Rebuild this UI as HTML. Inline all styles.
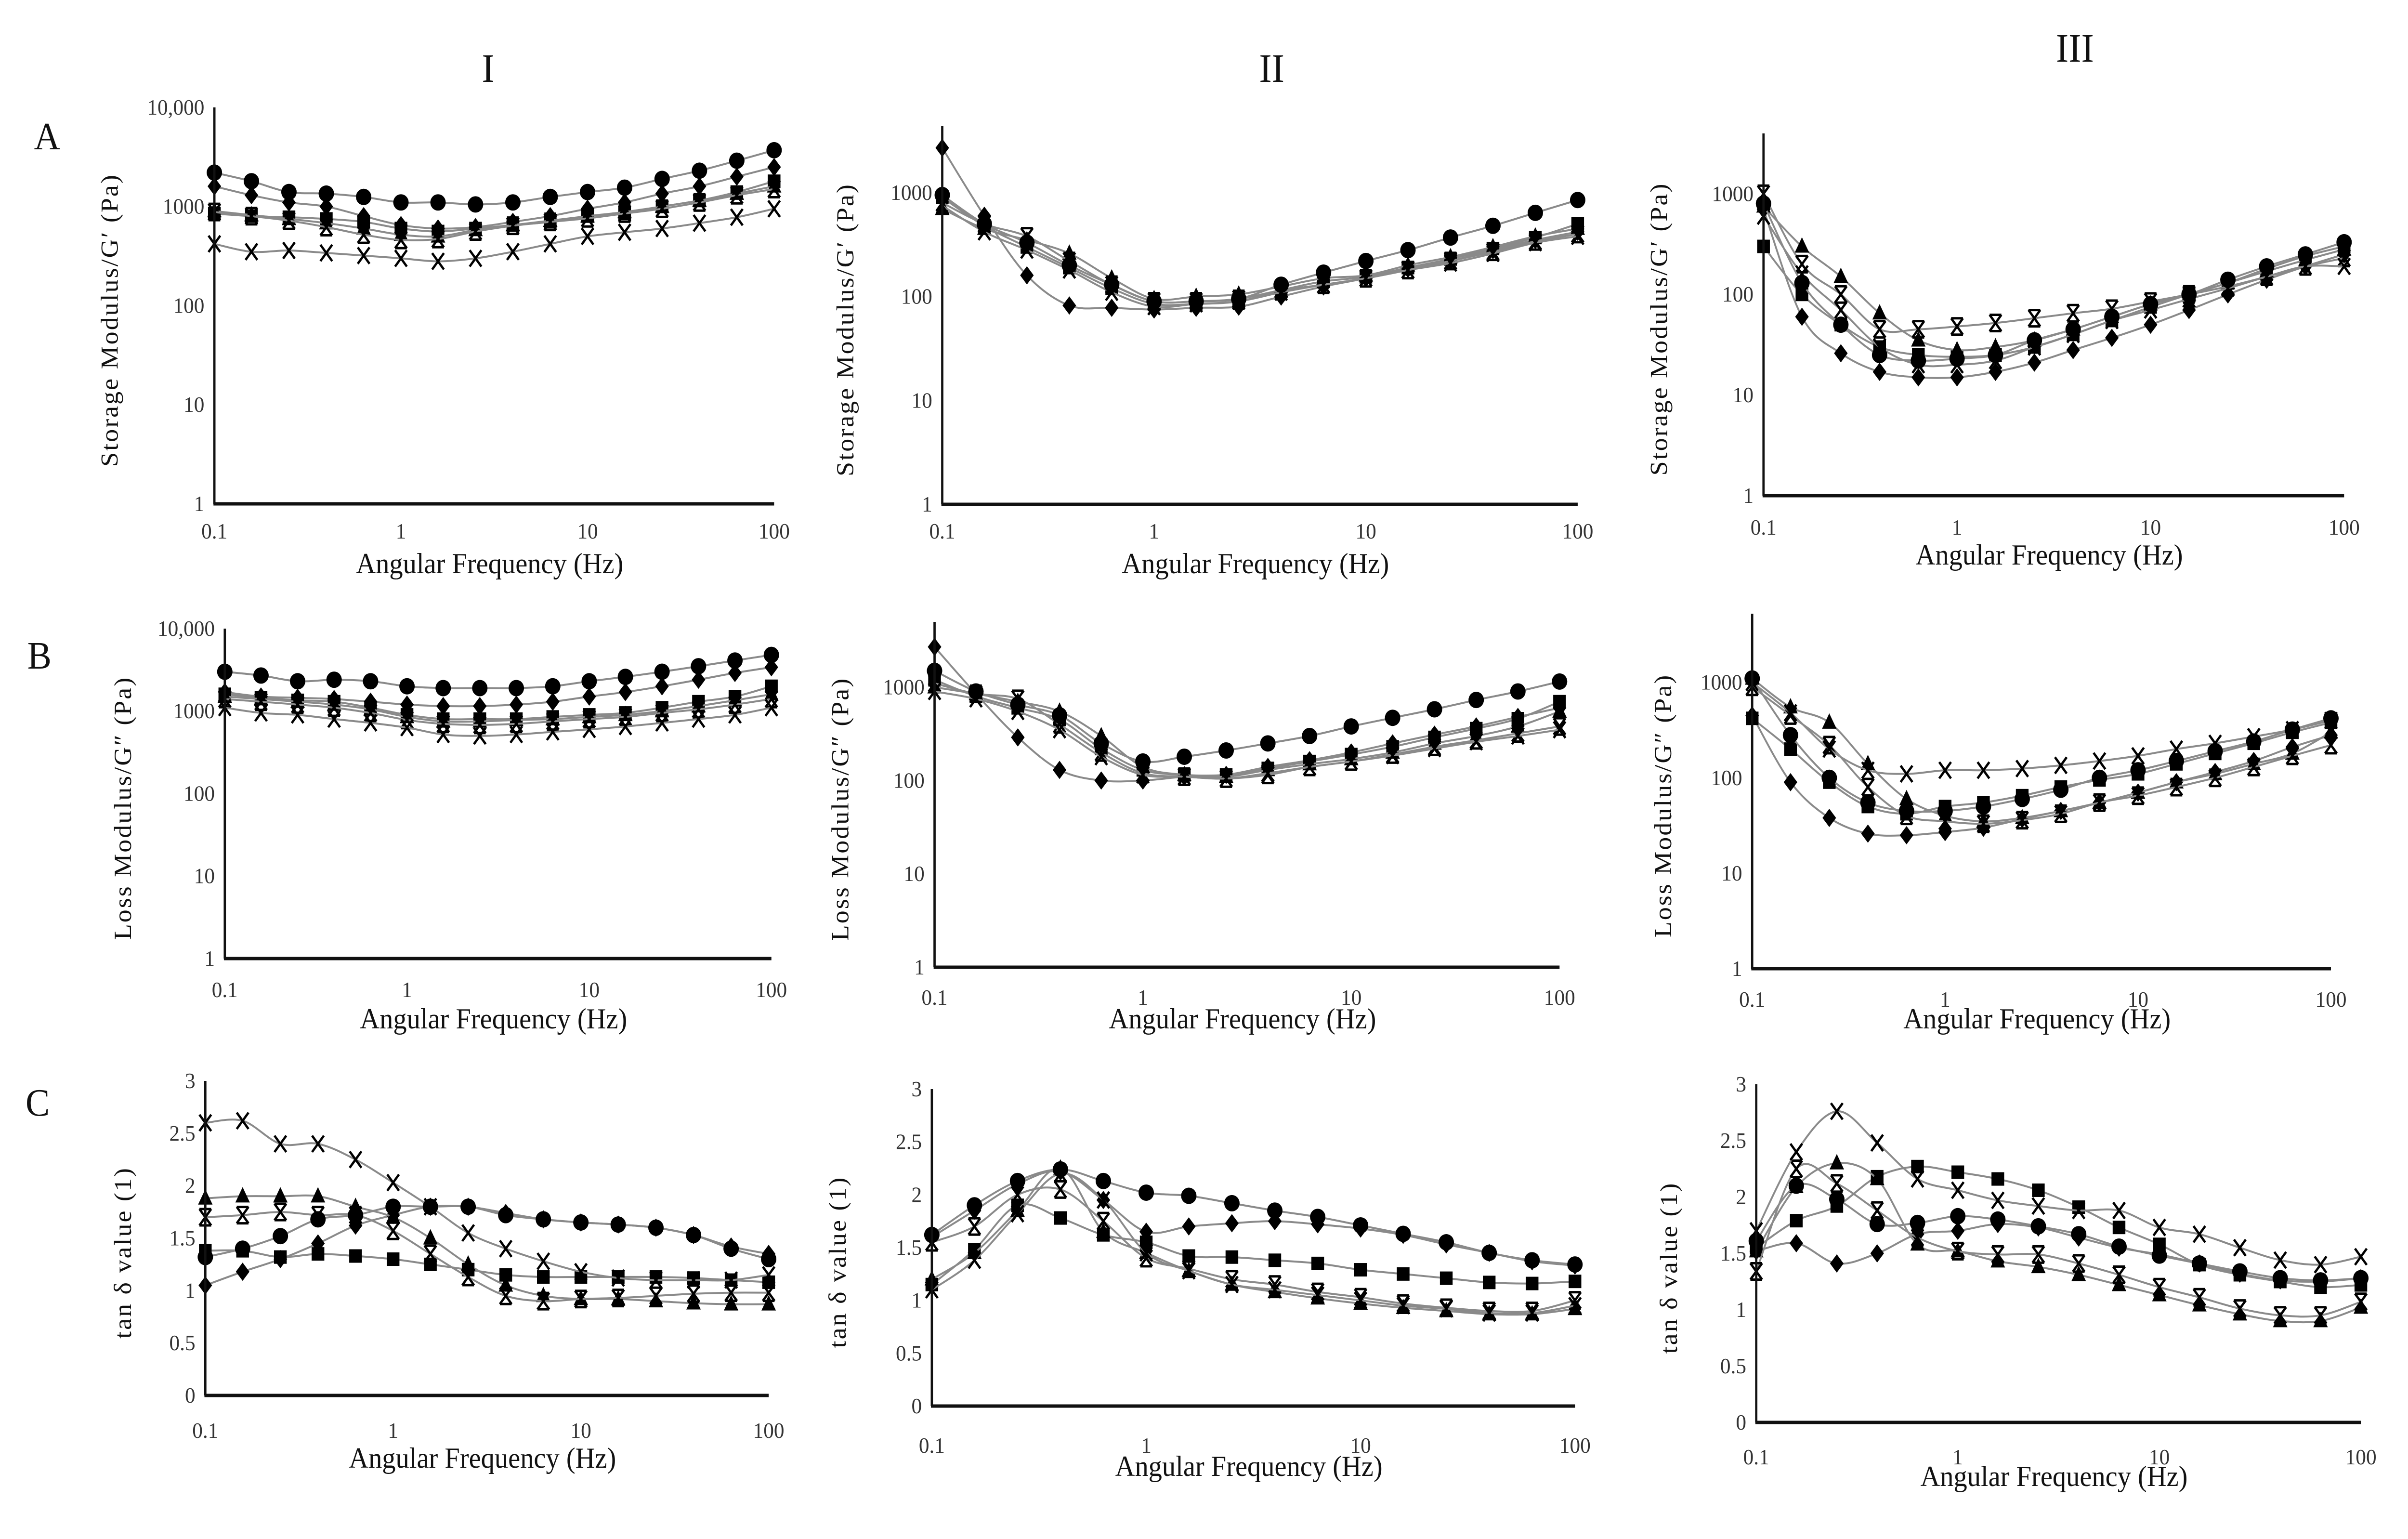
<!DOCTYPE html>
<html><head><meta charset="utf-8">
<style>
html,body{margin:0;padding:0;background:#fff;overflow:hidden;width:100%;height:100%;}
svg{display:block;width:100vw;height:100vh;}
text{font-family:"Liberation Serif",serif;}
</style></head>
<body>
<svg id="fig" viewBox="0 0 5313 3195" preserveAspectRatio="none" xmlns="http://www.w3.org/2000/svg">
<rect x="0" y="0" width="5313" height="3195" fill="#fff"/>
<text x="1077" y="170" font-size="84" text-anchor="middle" fill="#111">I</text>
<text x="2806" y="170" font-size="84" text-anchor="middle" fill="#111">II</text>
<text x="4578" y="128" font-size="84" text-anchor="middle" fill="#111">III</text>
<text x="104" y="310" font-size="80" text-anchor="middle" fill="#111">A</text>
<text x="87" y="1388" font-size="80" text-anchor="middle" fill="#111">B</text>
<text x="83" y="2316" font-size="80" text-anchor="middle" fill="#111">C</text>
</svg>
<script>
const freqs = [0.1,0.158,0.251,0.398,0.631,1,1.58,2.51,3.98,6.31,10,15.8,25.1,39.8,63.1,100];
const xTicks = [0.1,1,10,100];
const xTickLabels = ["0.1","1","10","100"];
const logTicks = [1,10,100,1000,10000];
const logTickLabels = ["1","10","100","1000","10,000"];
const tanTicks = [0,0.5,1,1.5,2,2.5,3];
const tanTickLabels = ["0","0.5","1","1.5","2","2.5","3"];

// A-I storage modulus
const aI_circle = [2200,1800,1400,1350,1250,1100,1100,1050,1100,1250,1400,1550,1900,2300,2900,3700];
const aI_diamond = [1600,1300,1100,1000,800,650,600,620,700,800,950,1100,1350,1600,2000,2500];
const aI_square = [850,800,780,750,700,600,560,600,650,700,800,850,1000,1150,1400,1800];
const aI_triangle = [900,820,750,680,600,520,500,580,650,720,800,880,1000,1150,1350,1600];
const aI_star = [880,800,720,620,520,460,470,560,640,700,760,850,950,1100,1300,1500];
const aI_cross = [420,350,360,340,320,300,280,300,350,420,500,550,600,680,780,950];
// A-II
const aII_circle = [950,500,330,200,130,90,90,95,130,170,220,280,370,480,640,850];
const aII_diamond = [2700,600,160,82,78,75,78,80,100,125,150,185,220,280,350,420];
const aII_square = [900,480,300,190,120,85,85,90,115,140,155,190,230,290,370,500];
const aII_triangle = [700,450,350,260,150,95,100,105,125,150,160,200,240,300,380,450];
const aII_star = [800,500,380,220,130,90,90,95,115,130,150,180,220,270,340,400];
const aII_cross = [750,420,280,180,110,80,85,90,110,130,150,180,210,260,330,380];
// A-III
const aIII_circle = [800,130,50,25,22,23,25,35,45,60,80,100,140,190,250,330];
const aIII_diamond = [700,60,26,17,15,15,17,21,28,37,50,70,100,140,190,250];
const aIII_square = [300,100,50,30,25,24,25,30,40,55,75,100,130,180,240,300];
const aIII_triangle = [750,300,150,65,35,28,30,35,45,60,80,100,130,170,220,280];
const aIII_star = [1000,200,100,45,45,48,52,58,65,72,85,100,120,150,190,230];
const aIII_cross = [600,160,70,30,20,20,22,30,40,55,70,90,115,150,190,190];
// B-I loss modulus
const bI_circle = [3000,2700,2300,2400,2300,2000,1900,1900,1900,2000,2300,2600,3000,3500,4100,4800];
const bI_diamond = [1700,1500,1450,1400,1300,1200,1150,1150,1200,1300,1500,1700,2000,2400,2900,3400];
const bI_square = [1600,1450,1350,1300,1100,900,800,800,800,850,900,950,1100,1300,1500,2000];
const bI_triangle = [1500,1400,1300,1200,1050,850,750,750,780,800,850,900,1000,1150,1350,1600];
const bI_star = [1400,1300,1200,1100,950,780,700,680,700,750,800,850,950,1050,1200,1400];
const bI_cross = [1100,950,900,800,720,630,520,500,520,560,600,650,720,800,900,1100];
// B-II
const bII_circle = [1500,900,650,500,250,160,180,210,250,300,380,470,580,730,900,1150];
const bII_diamond = [2700,850,290,130,100,100,110,115,140,165,200,250,310,380,480,600];
const bII_square = [1200,800,600,450,220,130,115,115,135,160,190,230,290,360,460,700];
const bII_triangle = [1000,850,700,550,300,140,115,110,130,150,170,200,250,300,380,550];
const bII_star = [1100,850,750,400,200,120,110,105,115,140,160,190,230,270,320,380];
const bII_cross = [900,750,550,350,180,115,110,105,120,140,160,185,220,260,300,350];
// B-III
const bIII_circle = [1100,280,100,55,45,45,50,60,75,100,120,150,190,240,320,420];
const bIII_diamond = [450,90,38,26,25,27,30,37,45,55,70,90,115,150,210,280];
const bIII_square = [420,200,90,50,42,50,55,65,80,95,110,140,180,230,300,380];
const bIII_triangle = [1100,550,380,140,60,40,35,38,45,55,70,90,110,140,180,300];
const bIII_star = [900,450,220,80,40,35,33,36,42,55,65,80,100,130,170,220];
const bIII_cross = [1000,480,200,120,110,120,120,125,135,150,170,200,230,270,320,400];
// C-I tan delta
const cI_circle = [1.32,1.40,1.52,1.68,1.72,1.80,1.80,1.80,1.72,1.68,1.65,1.63,1.60,1.53,1.40,1.30];
const cI_diamond = [1.05,1.18,1.30,1.45,1.62,1.72,1.80,1.80,1.74,1.68,1.65,1.63,1.60,1.53,1.42,1.35];
const cI_square = [1.38,1.38,1.32,1.35,1.33,1.30,1.25,1.20,1.15,1.13,1.13,1.13,1.13,1.12,1.10,1.08];
const cI_triangle = [1.88,1.90,1.90,1.90,1.80,1.70,1.50,1.25,1.05,0.95,0.92,0.92,0.90,0.88,0.87,0.87];
const cI_star = [1.70,1.72,1.75,1.72,1.72,1.57,1.35,1.13,0.95,0.90,0.92,0.93,0.95,0.97,0.98,0.98];
const cI_cross = [2.60,2.62,2.40,2.40,2.25,2.03,1.80,1.55,1.40,1.28,1.18,1.12,1.10,1.10,1.10,1.15];
// C-II
const cII_circle = [1.62,1.90,2.13,2.24,2.13,2.02,1.99,1.92,1.85,1.79,1.71,1.63,1.55,1.45,1.38,1.34];
const cII_diamond = [1.60,1.85,2.10,2.22,1.95,1.65,1.70,1.73,1.75,1.72,1.68,1.62,1.53,1.45,1.37,1.33];
const cII_square = [1.15,1.48,1.90,1.78,1.62,1.55,1.42,1.41,1.38,1.35,1.29,1.25,1.21,1.17,1.16,1.18];
const cII_triangle = [1.20,1.45,1.85,2.25,1.65,1.45,1.28,1.15,1.08,1.02,0.97,0.93,0.90,0.87,0.87,0.92];
const cII_star = [1.55,1.70,2.00,2.05,1.75,1.40,1.30,1.20,1.15,1.08,1.03,0.97,0.93,0.90,0.90,1.00];
const cII_cross = [1.10,1.38,1.82,2.20,1.95,1.45,1.28,1.15,1.10,1.05,1.00,0.95,0.92,0.88,0.88,0.95];
// C-III
const cIII_circle = [1.61,2.10,1.98,1.76,1.77,1.83,1.80,1.74,1.67,1.56,1.48,1.41,1.34,1.28,1.26,1.28];
const cIII_diamond = [1.52,1.59,1.41,1.50,1.67,1.70,1.76,1.73,1.64,1.55,1.49,1.41,1.32,1.26,1.25,1.28];
const cIII_square = [1.55,1.79,1.92,2.18,2.27,2.22,2.16,2.06,1.91,1.73,1.58,1.40,1.31,1.25,1.20,1.22];
const cIII_triangle = [1.52,2.09,2.30,2.16,1.58,1.52,1.43,1.38,1.31,1.22,1.13,1.04,0.96,0.90,0.90,1.02];
const cIII_star = [1.34,2.25,2.12,1.88,1.64,1.52,1.49,1.49,1.41,1.31,1.20,1.11,1.01,0.95,0.95,1.07];
const cIII_cross = [1.70,2.40,2.76,2.48,2.16,2.06,1.97,1.92,1.88,1.88,1.73,1.67,1.55,1.44,1.40,1.47];

const NS = "http://www.w3.org/2000/svg";
const svg = document.getElementById("fig");
function mk(tag, attrs, parent){
  const e = document.createElementNS(NS, tag);
  for (const k in attrs) e.setAttribute(k, attrs[k]);
  (parent||svg).appendChild(e);
  return e;
}

const panels = [
 {id:"a-i", x0:473,x1:1708,yb:1046,yt:223,log:true,vmin:0,vmax:4,lab:true,ytitle:"Storage Modulus/G\u2032 (Pa)",ytx:242,lbly:1118,ttly:1190,
  s:[aI_diamond,aI_square,aI_triangle,aI_star,aI_cross,aI_circle]},
 {id:"a-ii", x0:2079,x1:3481,yb:1047,yt:262,log:true,vmin:0,vmax:3.64,lab:false,ytitle:"Storage Modulus/G\u2032 (Pa)",ytx:1865,lbly:1118,ttly:1190,
  s:[aII_diamond,aII_square,aII_triangle,aII_star,aII_cross,aII_circle]},
 {id:"a-iii", x0:3891,x1:5172,yb:1029,yt:277,log:true,vmin:0,vmax:3.6,lab:false,ytitle:"Storage Modulus/G\u2032 (Pa)",ytx:3660,lbly:1110,ttly:1172,
  s:[aIII_diamond,aIII_square,aIII_triangle,aIII_star,aIII_cross,aIII_circle]},
 {id:"b-i", x0:496,x1:1702,yb:1990,yt:1305,log:true,vmin:0,vmax:4,lab:true,ytitle:"Loss Modulus/G\u2033 (Pa)",ytx:271,lbly:2070,ttly:2135,
  s:[bI_diamond,bI_square,bI_triangle,bI_star,bI_cross,bI_circle]},
 {id:"b-ii", x0:2062,x1:3441,yb:2008,yt:1291,log:true,vmin:0,vmax:3.7,lab:false,ytitle:"Loss Modulus/G\u2033 (Pa)",ytx:1854,lbly:2086,ttly:2135,
  s:[bII_diamond,bII_square,bII_triangle,bII_star,bII_cross,bII_circle]},
 {id:"b-iii", x0:3866,x1:5143,yb:2011,yt:1274,log:true,vmin:0,vmax:3.72,lab:false,ytitle:"Loss Modulus/G\u2033 (Pa)",ytx:3669,lbly:2090,ttly:2135,
  s:[bIII_diamond,bIII_square,bIII_triangle,bIII_star,bIII_cross,bIII_circle]},
 {id:"c-i", x0:453,x1:1696,yb:2897,yt:2244,log:false,vmin:0,vmax:3,ytitle:"tan \u03b4 value (1)",ytx:271,lbly:2985,ttly:3047,
  s:[cI_diamond,cI_square,cI_triangle,cI_star,cI_cross,cI_circle]},
 {id:"c-ii", x0:2056,x1:3475,yb:2919,yt:2261,log:false,vmin:0,vmax:3,ytitle:"tan \u03b4 value (1)",ytx:1848,lbly:3016,ttly:3064,
  s:[cII_diamond,cII_square,cII_triangle,cII_star,cII_cross,cII_circle]},
 {id:"c-iii", x0:3875,x1:5209,yb:2953,yt:2251,log:false,vmin:0,vmax:3,ytitle:"tan \u03b4 value (1)",ytx:3682,lbly:3040,ttly:3085,
  s:[cIII_diamond,cIII_square,cIII_triangle,cIII_star,cIII_cross,cIII_circle]}
];
const markerNames = ["diamond","square","triangle","star","cross","circle"];

function smoothPath(pts){
  let d = "M"+pts[0][0].toFixed(1)+","+pts[0][1].toFixed(1);
  for (let i=0;i<pts.length-1;i++){
    const p0=pts[Math.max(0,i-1)], p1=pts[i], p2=pts[i+1], p3=pts[Math.min(pts.length-1,i+2)];
    const c1x=p1[0]+(p2[0]-p0[0])/6, c1y=p1[1]+(p2[1]-p0[1])/6;
    const c2x=p2[0]-(p3[0]-p1[0])/6, c2y=p2[1]-(p3[1]-p1[1])/6;
    d += " C"+c1x.toFixed(1)+","+c1y.toFixed(1)+" "+c2x.toFixed(1)+","+c2y.toFixed(1)+" "+p2[0].toFixed(1)+","+p2[1].toFixed(1);
  }
  return d;
}

function drawMarker(g, type, x, y){
  const r = 17;
  let el;
  if (type==="circle") el = mk("circle",{cx:x,cy:y,r:r,fill:"#000"},g);
  else if (type==="square") el = mk("rect",{x:x-14,y:y-14,width:28,height:28,fill:"#000"},g);
  else if (type==="diamond") el = mk("polygon",{points:`${x},${y-19} ${x+15},${y} ${x},${y+19} ${x-15},${y}`,fill:"#000"},g);
  else if (type==="triangle") el = mk("polygon",{points:`${x},${y-19} ${x+16},${y+13} ${x-16},${y+13}`,fill:"#000"},g);
  else if (type==="cross") el = mk("path",{d:`M${x-13},${y-17}L${x+13},${y+17}M${x+13},${y-17}L${x-13},${y+17}`,stroke:"#000","stroke-width":5,fill:"none"},g);
  else el = mk("path",{d:`M${x-13},${y-17}L${x+13},${y+17}M${x+13},${y-17}L${x-13},${y+17}M${x-13},${y-17}L${x+13},${y-17}M${x-13},${y+17}L${x+13},${y+17}`,stroke:"#000","stroke-width":5,fill:"none"},g);
  
  
}

panels.forEach(p=>{
  const g = mk("g",{});
  
  
  const xs = f => p.x0 + (Math.log10(f)+1)/3*(p.x1-p.x0);
  const ys = v => {
    const t = p.log ? Math.log10(v) : v;
    return p.yb - (t-p.vmin)/(p.vmax-p.vmin)*(p.yb-p.yt);
  };
  p.s.forEach((vals,si)=>{
    const pts = vals.map((v,i)=>[xs(freqs[i]), ys(v)]);
    const path = mk("path",{d:smoothPath(pts),fill:"none",stroke:"#8a8a8a","stroke-width":4},g);
    
    
    pts.forEach(pt=>drawMarker(g, markerNames[si], pt[0], pt[1]));
  });
  const ya = mk("line",{x1:p.x0,y1:p.yt,x2:p.x0,y2:p.yb,stroke:"#111","stroke-width":5},g);
  
  
  const xa = mk("line",{x1:p.x0-2,y1:p.yb,x2:p.x1,y2:p.yb,stroke:"#111","stroke-width":7},g);
  
  
  const tv = p.log ? logTicks : tanTicks;
  const tl = p.log ? logTickLabels : tanTickLabels;
  tv.forEach((v,i)=>{
    if (p.log && Math.log10(v) > p.vmax + 0.01) return;
    if (p.log && v===10000 && !p.lab) return;
    const t = mk("text",{x:p.x0-22,y:ys(v)+15,"font-size":46,"text-anchor":"end",fill:"#333"},g);
    t.textContent = tl[i];
    
    
  });
  xTicks.forEach((f,i)=>{
    const t = mk("text",{x:xs(f),y:p.lbly,"font-size":46,"text-anchor":"middle",fill:"#333"},g);
    t.textContent = xTickLabels[i];
    
    
  });
  const xt = mk("text",{x:(p.x0+p.x1)/2-10,y:p.ttly,"font-size":60,"text-anchor":"middle",fill:"#111"},g);
  xt.textContent = "Angular Frequency (Hz)";
  
  
  const cy = (p.yt+p.yb)/2 + 30;
  const yt = mk("text",{x:p.ytx,y:cy,"font-size":54,"text-anchor":"middle",fill:"#111","letter-spacing":3,transform:`rotate(-90 ${p.ytx} ${cy})`,dy:18},g);
  yt.textContent = p.ytitle;
  
  
});
</script>
</body></html>
